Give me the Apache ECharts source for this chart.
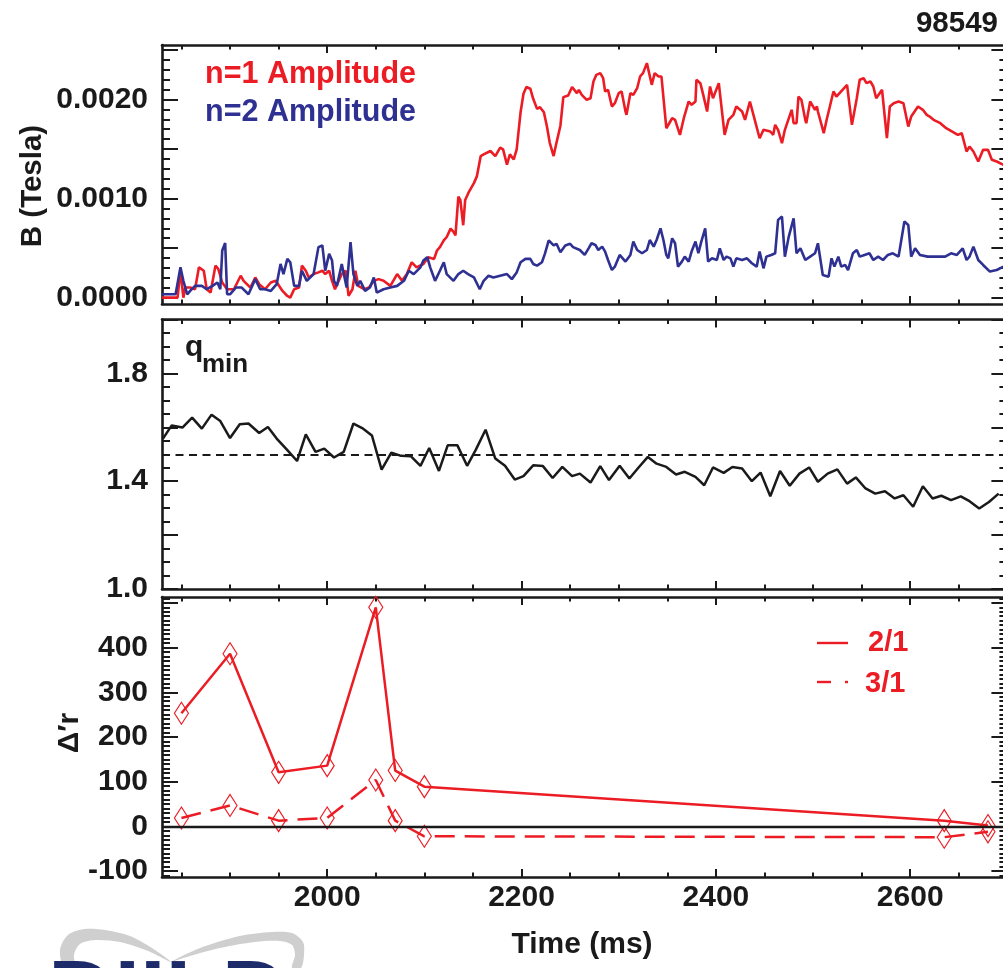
<!DOCTYPE html>
<html><head><meta charset="utf-8">
<script src="https://cdn.jsdelivr.net/npm/echarts@6/dist/echarts.min.js"></script>
<style>html,body{margin:0;padding:0;background:#fff}#c{width:1003px;height:968px}</style>
</head><body><div id="c"></div>
<script>
// ---------------- DATA ----------------
// Panel 1: mode amplitudes (Tesla) vs time (ms)
const n1Time = [1830,1846,1849,1852,1854,1859,1864,1868,1873,1876,1880,1885,1888,1892,1897,1904,1911,1914,1921,1926,1930,1936,1942,1947,1954,1959,1962,1966,1971,1974,1978,1981,1986,1991,1995,1998,2002,2005,2008,2015,2019,2022,2026,2029,2032,2038,2043,2048,2053,2058,2065,2072,2077,2082,2087,2092,2099,2104,2110,2113,2116,2120,2123,2127,2130,2132,2135,2137,2140,2142,2146,2151,2154,2158,2161,2168,2173,2178,2181,2185,2188,2192,2195,2199,2202,2205,2209,2212,2216,2219,2223,2226,2229,2233,2236,2240,2243,2248,2252,2257,2259,2262,2267,2271,2274,2277,2281,2284,2286,2289,2293,2296,2300,2303,2307,2308,2312,2315,2319,2322,2325,2329,2331,2334,2337,2341,2344,2349,2355,2358,2363,2367,2372,2375,2379,2380,2384,2387,2391,2394,2397,2403,2409,2413,2418,2420,2421,2427,2430,2435,2440,2445,2449,2456,2459,2461,2464,2468,2471,2478,2480,2483,2485,2488,2492,2493,2497,2502,2504,2505,2511,2514,2521,2524,2535,2540,2545,2548,2552,2555,2559,2562,2565,2571,2576,2579,2583,2588,2593,2598,2601,2608,2613,2617,2620,2624,2631,2637,2649,2653,2658,2661,2665,2670,2675,2680,2684,2689,2696];
const n1Amp = [0,0,0.000272,0,0.000102,0.000102,0.000085,0.000306,0.000272,0.000085,0.000051,0.000323,0.000289,0.000153,0.000085,0.000085,0.000221,0.000170,0.000102,0.000204,0.000136,0.000085,0.000153,0.000170,0.000068,0.000017,0.000000,0.000085,0.000102,0.000323,0.000272,0.000204,0.000238,0.000255,0.000272,0.000238,0.000272,0.000170,0.000085,0.000238,0.000272,0.000017,0.000085,0.000272,0.000119,0.000085,0.000102,0.000170,0.000187,0.000170,0.000119,0.000238,0.000170,0.000238,0.000357,0.000306,0.000340,0.000408,0.000391,0.000476,0.000510,0.000578,0.000612,0.000697,0.000663,0.000629,0.001020,0.000986,0.000731,0.000986,0.001071,0.001156,0.001224,0.001429,0.001446,0.001480,0.001429,0.001514,0.001497,0.001343,0.001446,0.001395,0.001497,0.001871,0.002058,0.002126,0.002109,0.002007,0.001905,0.001922,0.001871,0.001735,0.001565,0.001429,0.001565,0.001735,0.002024,0.002041,0.002126,0.002064,0.002098,0.002047,0.001997,0.002013,0.002182,0.002249,0.002266,0.002215,0.002081,0.002098,0.001929,0.001963,0.002064,0.002081,0.001879,0.001845,0.002064,0.002047,0.002114,0.002232,0.002266,0.002367,0.002384,0.002148,0.002266,0.002232,0.002232,0.001710,0.001811,0.001795,0.001643,0.001811,0.001980,0.001946,0.001980,0.002199,0.002165,0.002047,0.001879,0.002131,0.002013,0.002165,0.001643,0.001795,0.001845,0.001828,0.001929,0.001879,0.001795,0.001980,0.001795,0.001609,0.001694,0.001677,0.001643,0.001744,0.001694,0.001559,0.001694,0.001896,0.001761,0.001761,0.002030,0.001997,0.001795,0.001761,0.001980,0.001896,0.001929,0.001879,0.001660,0.001795,0.002081,0.002030,0.002148,0.001744,0.002013,0.002199,0.002215,0.002165,0.002182,0.002131,0.002013,0.002098,0.001609,0.001929,0.001963,0.001980,0.001963,0.001727,0.001828,0.001929,0.001896,0.001845,0.001828,0.001795,0.001761,0.001710,0.001643,0.001660,0.001475,0.001525,0.001475,0.001374,0.001492,0.001492,0.001391,0.001374,0.001340];
const n2Time = [1830,1844,1846,1849,1852,1856,1859,1864,1871,1876,1882,1887,1890,1892,1895,1897,1900,1906,1912,1919,1926,1931,1936,1942,1948,1952,1955,1959,1962,1966,1971,1974,1979,1986,1991,1995,1998,2002,2005,2007,2010,2015,2020,2024,2027,2031,2034,2039,2044,2048,2051,2058,2065,2072,2079,2084,2089,2096,2099,2103,2106,2111,2116,2120,2123,2130,2135,2140,2145,2151,2157,2161,2166,2171,2178,2185,2190,2195,2199,2204,2209,2212,2216,2221,2224,2228,2233,2236,2240,2245,2250,2253,2257,2260,2265,2269,2272,2276,2279,2283,2286,2289,2293,2296,2301,2307,2312,2315,2319,2324,2329,2332,2336,2339,2343,2346,2349,2351,2355,2358,2361,2365,2368,2372,2375,2379,2382,2385,2389,2392,2396,2401,2404,2408,2411,2415,2418,2421,2427,2432,2437,2442,2445,2449,2452,2457,2461,2464,2468,2471,2475,2480,2483,2487,2492,2497,2502,2505,2510,2516,2519,2522,2526,2529,2533,2536,2541,2545,2548,2553,2558,2562,2567,2572,2577,2582,2588,2594,2598,2601,2605,2610,2618,2627,2636,2642,2648,2654,2658,2661,2665,2670,2675,2682,2689,2696];
const n2Amp = [0.000035,0.000035,0.000035,0.000306,0.000170,0.000034,0.000068,0.000119,0.000119,0.000085,0.000119,0.000153,0.000085,0.000476,0.000551,0.000034,0.000034,0.000102,0.000102,0.000034,0.000187,0.000085,0.000085,0.000068,0.000136,0.000340,0.000238,0.000391,0.000357,0.000119,0.000119,0.000272,0.000170,0.000238,0.000510,0.000527,0.000272,0.000442,0.000374,0.000170,0.000119,0.000340,0.000102,0.000561,0.000238,0.000119,0.000170,0.000068,0.000102,0.000204,0.000051,0.000085,0.000102,0.000119,0.000170,0.000272,0.000238,0.000306,0.000374,0.000408,0.000306,0.000170,0.000272,0.000357,0.000238,0.000170,0.000238,0.000272,0.000238,0.000204,0.000085,0.000170,0.000221,0.000204,0.000221,0.000238,0.000187,0.000255,0.000357,0.000391,0.000391,0.000340,0.000323,0.000357,0.000442,0.000578,0.000527,0.000544,0.000459,0.000527,0.000544,0.000510,0.000493,0.000481,0.000431,0.000498,0.000549,0.000532,0.000481,0.000515,0.000465,0.000380,0.000279,0.000313,0.000431,0.000364,0.000431,0.000566,0.000481,0.000448,0.000481,0.000582,0.000515,0.000582,0.000700,0.000582,0.000431,0.000397,0.000599,0.000549,0.000313,0.000364,0.000414,0.000364,0.000465,0.000566,0.000448,0.000566,0.000700,0.000364,0.000397,0.000380,0.000498,0.000380,0.000414,0.000397,0.000313,0.000397,0.000380,0.000397,0.000347,0.000313,0.000465,0.000296,0.000414,0.000431,0.000448,0.000785,0.000818,0.000414,0.000616,0.000801,0.000448,0.000498,0.000380,0.000414,0.000448,0.000549,0.000229,0.000212,0.000397,0.000313,0.000414,0.000313,0.000330,0.000279,0.000448,0.000481,0.000414,0.000431,0.000448,0.000380,0.000414,0.000380,0.000431,0.000448,0.000414,0.000768,0.000734,0.000414,0.000498,0.000431,0.000414,0.000414,0.000414,0.000448,0.000431,0.000498,0.000380,0.000414,0.000515,0.000380,0.000330,0.000263,0.000279,0.000313];

// Panel 2: q_min vs time
const qTime = [1831,1840,1851,1861,1871,1881,1890,1900,1910,1919,1930,1939,1948,1959,1969,1978,1988,1997,2007,2017,2027,2037,2046,2056,2066,2076,2086,2096,2105,2115,2124,2134,2144,2153,2163,2173,2183,2193,2202,2212,2222,2232,2242,2252,2260,2271,2281,2290,2301,2311,2320,2330,2339,2349,2359,2368,2379,2388,2397,2408,2417,2427,2437,2446,2456,2466,2476,2486,2496,2505,2515,2525,2535,2544,2554,2564,2574,2584,2593,2603,2613,2623,2632,2642,2652,2661,2671,2681,2691];
const qMin = [1.558,1.607,1.599,1.636,1.595,1.647,1.623,1.560,1.611,1.614,1.579,1.601,1.558,1.515,1.475,1.574,1.509,1.521,1.488,1.509,1.614,1.595,1.570,1.443,1.506,1.494,1.493,1.457,1.523,1.438,1.533,1.533,1.457,1.517,1.591,1.484,1.457,1.406,1.419,1.459,1.456,1.412,1.453,1.419,1.428,1.395,1.456,1.404,1.457,1.410,1.449,1.490,1.465,1.453,1.425,1.435,1.416,1.385,1.451,1.431,1.453,1.447,1.400,1.432,1.344,1.438,1.383,1.428,1.451,1.398,1.428,1.444,1.391,1.414,1.373,1.354,1.363,1.336,1.348,1.305,1.381,1.336,1.346,1.330,1.344,1.326,1.299,1.323,1.354];
const qRef = 1.5;

// Panel 3: Delta' r for 2/1 and 3/1
const dTime = [1850,1900,1950,2000,2050,2070,2100,2635,2680];
const d21 = [253,386,121,136,490,125,89,13,2];
const d31 = [19,47,13,19,104,13,-22,-24,-12];

// Ticks / labels
const xMajorTicks = [2000,2200,2400,2600];
const xMinorTicks = [1850,1900,1950,2050,2100,2150,2250,2300,2350,2450,2500,2550,2650,2700];
const xTickLabels = [2000,2200,2400,2600];
const bMajorTicks = [0,0.0005,0.001,0.0015,0.002,0.0025];
const bTickLabels = [0,0.001,0.002];
const qMajorTicks = [1.0,1.2,1.4,1.6,1.8,2.0];
const qTickLabels = [1.0,1.4,1.8];
const dMajorTicks = [-100,0,100,200,300,400,500];
const dTickLabels = [-100,0,100,200,300,400];

function minorList(a, b, step, scale, majors) {
  const out = [];
  for (let k = a; k <= b; k += step) {
    const v = Math.round(k) / scale;
    if (!majors.some(m => Math.abs(m - v) < 1e-9)) out.push(v);
  }
  return out;
}
const bMinorTicks = minorList(0, 25, 1, 10000, bMajorTicks);
const qMinorTicks = minorList(100, 200, 5, 100, qMajorTicks);
const dMinorTicks = minorList(-110, 510, 10, 1, dMajorTicks);

// ---------------- STYLE ----------------
const FONT = '"Liberation Sans", Arial, Helvetica, sans-serif';
const INK = '#1a1a1a';
const RED = '#ec1c24';
const BLUE = '#2e3192';
const X_MIN = 1830, X_MAX = 2700;
const GL = 162, GW = 845.4;

const panels = [
  {top: 45, height: 259, min: -0.000064, max: 0.00255, major: bMajorTicks, minor: bMinorTicks, labels: bTickLabels, fmt: v => Number(v).toFixed(4), xl: false},
  {top: 319.5, height: 269.5, min: 1.0, max: 2.0, major: qMajorTicks, minor: qMinorTicks, labels: qTickLabels, fmt: v => Number(v).toFixed(1), xl: false},
  {top: 597, height: 280, min: -113, max: 513, major: dMajorTicks, minor: dMinorTicks, labels: dTickLabels, fmt: v => String(v), xl: true}
];

const grid = [], xAxis = [], yAxis = [];
const lbl = {fontFamily: FONT, fontWeight: 'bold', fontSize: 30, color: INK};
const lineS = {color: INK, width: 2.6};
const tickS = {color: INK, width: 2};

panels.forEach((p, i) => {
  for (let layer = 0; layer < 2; layer++) {
    const g = grid.length;
    grid.push({left: GL, width: GW, top: p.top, height: p.height, containLabel: false, outerBoundsMode: 'none'});
    const main = layer === 0;
    ['bottom', 'top'].forEach(pos => {
      xAxis.push({
        type: 'value', gridIndex: g, position: pos, min: X_MIN, max: X_MAX,
        axisLine: {show: main, onZero: false, lineStyle: lineS},
        axisTick: {show: true, inside: true, length: main ? 8 : 4.5, lineStyle: tickS,
                   customValues: main ? xMajorTicks : xMinorTicks},
        axisLabel: Object.assign({show: main && p.xl && pos === 'bottom', customValues: xTickLabels, margin: 6,
                                  formatter: v => String(v)}, lbl),
        splitLine: {show: false}
      });
    });
    ['left', 'right'].forEach(pos => {
      yAxis.push({
        type: 'value', gridIndex: g, position: pos, min: p.min, max: p.max,
        axisLine: {show: main, onZero: false, lineStyle: lineS},
        axisTick: {show: true, inside: true, length: main ? 16 : 8, lineStyle: tickS,
                   customValues: main ? p.major : p.minor},
        axisLabel: Object.assign({show: main && pos === 'left', customValues: p.labels, margin: 14, formatter: p.fmt}, lbl),
        splitLine: {show: false}
      });
    });
  }
});

const zip = (a, b) => a.map((t, k) => [t, b[k]]);
const noEmph = {disabled: true};

const series = [
  {type: 'line', name: 'n=1 Amplitude', xAxisIndex: 0, yAxisIndex: 0, data: zip(n1Time, n1Amp),
   showSymbol: false, symbol: 'none', lineStyle: {color: RED, width: 2.6}, emphasis: noEmph, z: 3},
  {type: 'line', name: 'n=2 Amplitude', xAxisIndex: 0, yAxisIndex: 0, data: zip(n2Time, n2Amp),
   showSymbol: false, symbol: 'none', lineStyle: {color: BLUE, width: 2.6}, emphasis: noEmph, z: 4},
  {type: 'line', name: 'qmin', xAxisIndex: 4, yAxisIndex: 4, data: zip(qTime, qMin),
   showSymbol: false, symbol: 'none', lineStyle: {color: INK, width: 2.5}, emphasis: noEmph, z: 3,
   markLine: {silent: true, symbol: ['none', 'none'], label: {show: false},
              lineStyle: {color: INK, type: [8, 5.5], width: 2}, data: [{yAxis: qRef}]}},
  {type: 'line', name: '2/1', xAxisIndex: 8, yAxisIndex: 8, data: zip(dTime, d21),
   symbol: 'diamond', symbolSize: [14, 22], showSymbol: true,
   itemStyle: {color: 'rgba(255,255,255,0)', borderColor: RED, borderWidth: 1.2},
   lineStyle: {color: RED, width: 2.5}, emphasis: noEmph, z: 3,
   markLine: {silent: true, symbol: ['none', 'none'], label: {show: false},
              lineStyle: {color: INK, type: 'solid', width: 2.4}, data: [{yAxis: 0}]}},
  {type: 'line', name: '3/1', xAxisIndex: 8, yAxisIndex: 8, data: zip(dTime, d31),
   symbol: 'diamond', symbolSize: [14, 22], showSymbol: true,
   itemStyle: {color: 'rgba(255,255,255,0)', borderColor: RED, borderWidth: 1.2},
   lineStyle: {color: RED, width: 2.5, type: [20, 10]}, emphasis: noEmph, z: 3}
];

const T = (x, y, text, opt) => ({type: 'text', x, y, silent: true, rotation: (opt && opt.rot) || 0, z: 10,
  style: {text, fill: (opt && opt.fill) || INK, fontFamily: FONT, fontWeight: 'bold',
          fontSize: (opt && opt.size) || 30, align: (opt && opt.align) || 'left', verticalAlign: 'middle'}});

const graphic = [
  T(998, 24, '98549', {align: 'right', size: 29.5}),
  T(205, 75, 'n=1 Amplitude', {fill: RED, size: 30.5}),
  T(205, 113, 'n=2 Amplitude', {fill: BLUE, size: 30.5}),
  T(33, 186, 'B (Tesla)', {align: 'center', rot: Math.PI / 2, size: 29.5}),
  T(185, 348, 'q', {size: 30}),
  T(202, 365, 'min', {size: 26}),
  T(70, 733, 'Δ′r', {align: 'center', rot: Math.PI / 2, size: 30}),
  T(582, 945, 'Time (ms)', {align: 'center', size: 30}),
  // panel 3 legend
  {type: 'line', silent: true, shape: {x1: 817, y1: 643, x2: 848, y2: 643}, style: {stroke: RED, lineWidth: 2.4}},
  {type: 'line', silent: true, shape: {x1: 817, y1: 682, x2: 831, y2: 682}, style: {stroke: RED, lineWidth: 2.4}},
  {type: 'line', silent: true, shape: {x1: 845, y1: 682, x2: 848, y2: 682}, style: {stroke: RED, lineWidth: 2.4}},
  T(868, 643, '2/1', {fill: RED, size: 29}),
  T(865, 684, '3/1', {fill: RED, size: 29}),
  // partial logo
  {type: 'polygon', silent: true, shape: {smooth: 0.3, points: [[64,968],[60,950],[68,935],[85,929],[105,930],[130,936],[152,948],[171,962],[148,951],[120,942],[95,940],[80,944],[74,955],[75,968]]}, style: {fill: '#cfcfcf'}},
  {type: 'polygon', silent: true, shape: {smooth: 0.3, points: [[171,962],[200,948],[240,936],[272,932],[292,933],[303,942],[304,955],[301,968],[292,968],[295,955],[292,945],[280,941],[255,942],[220,948],[190,956]]}, style: {fill: '#cfcfcf'}},
  {type: 'text', silent: true, x: 48, y: 1000, z: 11, style: {text: 'DIII-D', fill: '#1d2b6b', fontFamily: FONT, fontWeight: 'bold', fontSize: 92, align: 'left', verticalAlign: 'middle'}}
];

const chart = echarts.init(document.getElementById('c'), null, {renderer: 'canvas'});
chart.setOption({animation: false, backgroundColor: '#fff', grid, xAxis, yAxis, series, graphic});
</script></body></html>
